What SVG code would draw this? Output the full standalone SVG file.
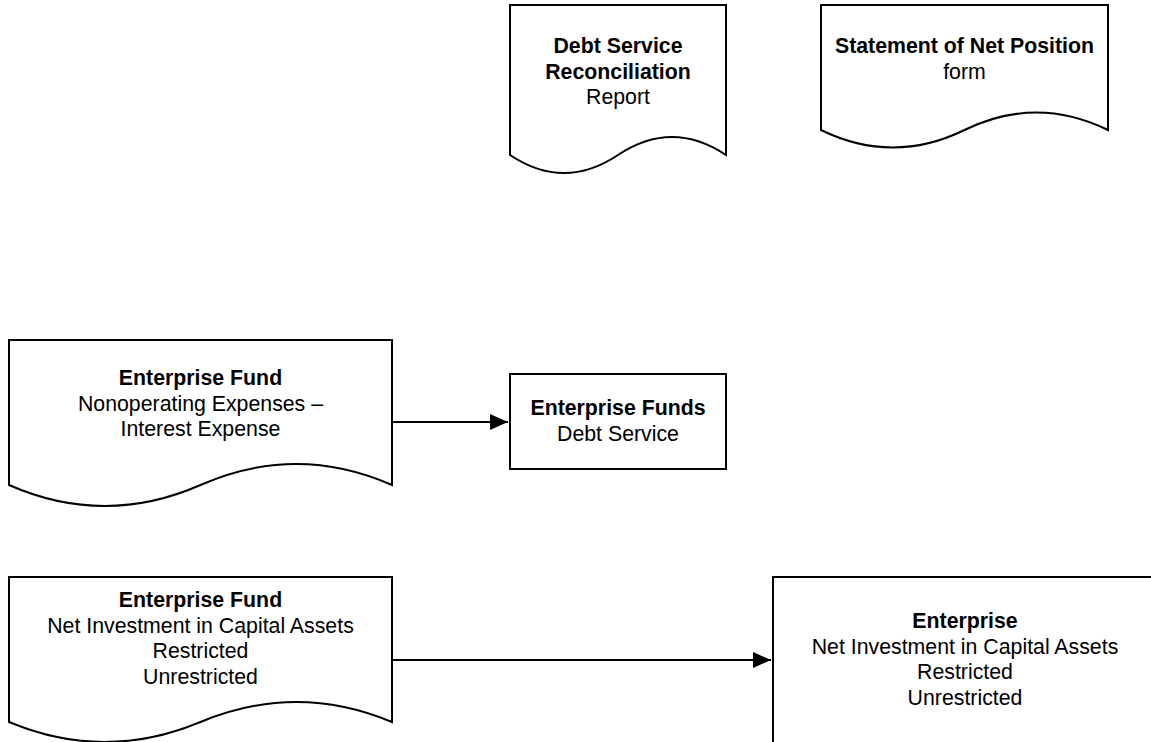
<svg xmlns="http://www.w3.org/2000/svg" width="1151" height="742" viewBox="0 0 1151 742">
<style>
.shape{fill:#fff;stroke:#000;stroke-width:2;stroke-linejoin:miter}
.t{font-family:"Liberation Sans",Arial,sans-serif;font-size:21.3px;fill:#000;text-anchor:middle}
.b{font-weight:bold}
.conn{stroke:#000;stroke-width:2;fill:none}
</style>
<defs>
<marker id="arr" viewBox="0 0 18 18" refX="18" refY="9" markerWidth="18" markerHeight="18" markerUnits="userSpaceOnUse" orient="auto">
<path d="M0,1 L18,9 L0,17 Z" fill="#000"/>
</marker>
</defs>
<rect width="1151" height="742" fill="#fff"/>
<g id="debt-service-reconciliation">
<path class="shape" d="M510,5 H726 V155 Q672,119 618,155 T510,155 Z"/>
<text class="t b" x="618" y="53">Debt Service</text>
<text class="t b" x="618" y="78.5">Reconciliation</text>
<text class="t" x="618" y="104">Report</text>
</g>
<g id="statement-net-position">
<path class="shape" d="M821,5 H1108 V130 Q1036.25,95 964.5,130 T821,130 Z"/>
<text class="t b" x="964.5" y="53">Statement of Net Position</text>
<text class="t" x="964.5" y="78.5">form</text>
</g>
<g id="ef-nonoperating">
<path class="shape" d="M9,340 H392 V485 Q296.25,443 200.5,485 T9,485 Z"/>
<text class="t b" x="200.5" y="385">Enterprise Fund</text>
<text class="t" x="200.5" y="410.5">Nonoperating Expenses –</text>
<text class="t" x="200.5" y="436">Interest Expense</text>
</g>
<g id="ef-debt-service">
<rect class="shape" x="510" y="374" width="216" height="95"/>
<text class="t b" x="618" y="415">Enterprise Funds</text>
<text class="t" x="618" y="440.5">Debt Service</text>
</g>
<g id="ef-net-investment">
<path class="shape" d="M9,577 H392 V722 Q296.25,682 200.5,722 T9,722 Z"/>
<text class="t b" x="200.5" y="607">Enterprise Fund</text>
<text class="t" x="200.5" y="632.5">Net Investment in Capital Assets</text>
<text class="t" x="200.5" y="658">Restricted</text>
<text class="t" x="200.5" y="683.5">Unrestricted</text>
</g>
<g id="enterprise">
<rect class="shape" x="773" y="577" width="384" height="190"/>
<text class="t b" x="965" y="628">Enterprise</text>
<text class="t" x="965" y="653.5">Net Investment in Capital Assets</text>
<text class="t" x="965" y="679">Restricted</text>
<text class="t" x="965" y="704.5">Unrestricted</text>
</g>
<g id="connectors">
<line class="conn" x1="392" y1="422" x2="508" y2="422" marker-end="url(#arr)"/>
<line class="conn" x1="392" y1="660" x2="771" y2="660" marker-end="url(#arr)"/>
</g>
</svg>
